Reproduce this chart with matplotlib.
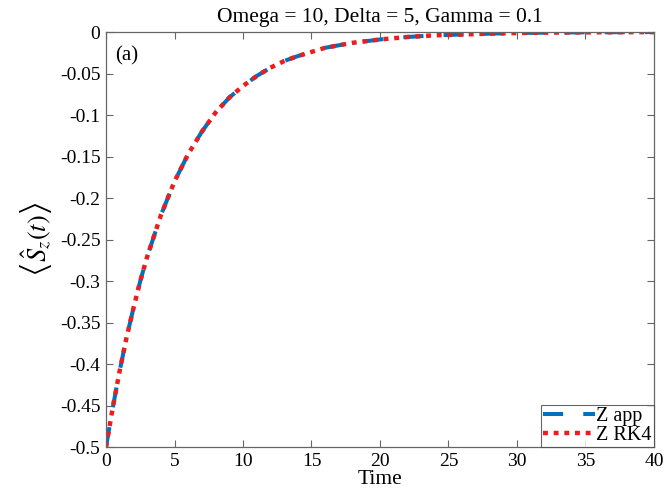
import numpy as np
import matplotlib.pyplot as plt

# values
time = [0, 0.5, 1, 1.5, 2, 2.5, 3, 4, 5, 6, 7, 8, 9, 10, 11, 12, 13, 14, 15, 16,
        18, 20, 22, 24, 26, 28, 30, 32, 34, 36, 38, 40]
z_app = [-0.500, -0.452, -0.408, -0.368, -0.333, -0.300, -0.271, -0.221, -0.180,
         -0.147, -0.120, -0.097, -0.079, -0.065, -0.053, -0.043, -0.035, -0.029,
         -0.024, -0.019, -0.013, -0.009, -0.006, -0.004, -0.003, -0.002, -0.0012,
         -0.0008, -0.0005, -0.0003, -0.0002, -0.0001]
z_rk4 = [-0.500, -0.452, -0.408, -0.368, -0.333, -0.300, -0.271, -0.221, -0.180,
         -0.147, -0.120, -0.097, -0.079, -0.065, -0.053, -0.043, -0.035, -0.029,
         -0.024, -0.019, -0.013, -0.009, -0.006, -0.004, -0.003, -0.002, -0.0012,
         -0.0008, -0.0005, -0.0003, -0.0002, -0.0001]
xticks = np.arange(0, 41, 5)
yticks = [0, -0.05, -0.1, -0.15, -0.2, -0.25, -0.3, -0.35, -0.4, -0.45, -0.5]
ytick_labels = ["0", "-0.05", "-0.1", "-0.15", "-0.2", "-0.25", "-0.3",
                "-0.35", "-0.4", "-0.45", "-0.5"]

plt.rcParams["font.family"] = ["Liberation Serif", "DejaVu Serif"]
plt.rcParams["mathtext.fontset"] = "stix"

fig = plt.figure(figsize=(6.68, 4.97), dpi=100)
ax = fig.add_axes([0.1587, 0.1006, 0.8203, 0.835])

blue = "#0072BD"
red = "#EE1C1C"
ax.plot(time, z_app, color=blue, lw=2.9, dashes=(5, 5),
        dash_capstyle="butt", label="Z app")
ax.plot(time, z_rk4, color=red, lw=3.2, dashes=(1.1, 1.3),
        dash_capstyle="butt", label="Z RK4")

ax.set_xlim(0, 40)
ax.set_ylim(-0.5, 0)
ax.set_xticks(xticks)
ax.set_yticks(yticks)
ax.set_yticklabels(ytick_labels)
ax.tick_params(direction="in", length=5, width=0.8, color="0.4",
               labelsize=14, top=True, right=True, pad=4)
for s in ax.spines.values():
    s.set_color("0.4")
    s.set_linewidth(0.9)

ax.set_xlabel("Time", fontsize=15.5, labelpad=0)
ax.set_ylabel(r"$\left\langle \hat{S}_z(t) \right\rangle$", fontsize=19,
              labelpad=4)
ax.set_title("Omega = 10, Delta = 5, Gamma = 0.1", fontsize=15.5, pad=7)
ax.text(0.017, 0.965, "(a)", transform=ax.transAxes, fontsize=15,
        va="top", ha="left")

leg = ax.legend(loc="lower right", fontsize=14.5, frameon=True, fancybox=False,
                borderaxespad=0, borderpad=0.1, handlelength=2.6,
                handletextpad=0.05, labelspacing=0.0)
leg.get_frame().set_edgecolor("0.25")
leg.get_frame().set_linewidth(0.8)

plt.savefig("out.png", dpi=100)
